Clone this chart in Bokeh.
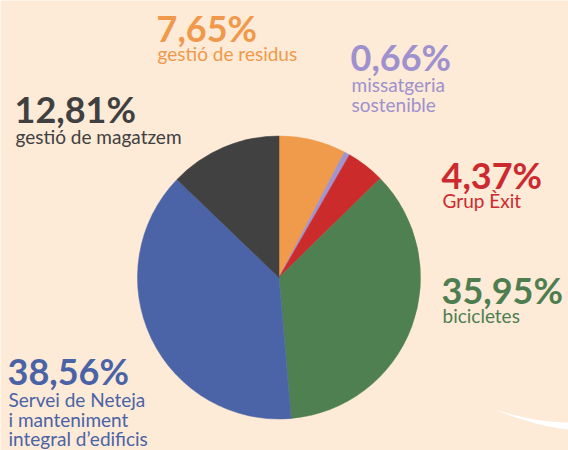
import numpy as np
from bokeh.plotting import figure
from bokeh.models import Range1d, ColumnDataSource
from bokeh.core.properties import value
from bokeh.embed import file_html
from bokeh.resources import INLINE

# ---- data ----
categories = ["gestió de residus", "missatgeria sostenible", "Grup Èxit",
              "bicicletes", "Servei de Neteja i manteniment integral d’edificis",
              "gestió de magatzem"]
shares = [7.65, 0.66, 4.37, 35.95, 38.56, 12.81]
pct_labels = ["7,65%", "0,66%", "4,37%", "35,95%", "38,56%", "12,81%"]
name_lines = [["gestió de residus"], ["missatgeria", "sostenible"], ["Grup Èxit"],
              ["bicicletes"], ["Servei de Neteja", "i manteniment", "integral d’edificis"],
              ["gestió de magatzem"]]
slice_colors = ["#F09A4B", "#A294CC", "#CC2B2C", "#4F8051", "#4A64A7", "#414141"]
text_colors = ["#F0994A", "#9E91CD", "#CC2A2F", "#4E7E50", "#4A63A6", "#404040"]

BG = "#FDEAD7"
W, H = 568, 450

def Y(yref):
    return H - yref

p = figure(width=W, height=H, output_backend="svg", toolbar_location=None,
           x_range=Range1d(0, W), y_range=Range1d(0, H),
           min_border=0, background_fill_color=BG, border_fill_color=BG)
p.axis.visible = False
p.grid.visible = False
p.outline_line_color = None

# decorative white swoosh (bottom right)
t = np.linspace(0, 1, 40)
sx = 492 + 80 * t
up = 408 + 14 * (1 - (1 - t) ** 2)
lo = 408 + 21 * (1 - (1 - t) ** 1.6)
p.patch(np.concatenate([sx, sx[::-1]]), Y(np.concatenate([up, lo[::-1]])),
        fill_color="white", line_color=None)

# pie
cx, cy, r = 278.5, 277, 141.5
frac = np.array(shares) / sum(shares)
cum = np.concatenate([[0], np.cumsum(frac)])
start = np.pi / 2 - 2 * np.pi * cum[:-1]
end = np.pi / 2 - 2 * np.pi * cum[1:]
src = ColumnDataSource(dict(start=start, end=end, color=slice_colors, cat=categories))
p.wedge(x=cx, y=Y(cy), radius=r, start_angle="start", end_angle="end",
        direction="clock", fill_color="color", line_color="color", line_width=0.5,
        source=src)

# labels: (left x, pct baseline, first name baseline) in reference px
label_pos = [(156, 42, 61), (350, 71, 92), (441, 189, 208),
             (441, 304, 323), (7, 385, 407), (14, 123, 144)]
line_gap = 19.5
PCT, NAME = 36, 19
for (lx, pb, nb), pl, nl, c in zip(label_pos, pct_labels, name_lines, text_colors):
    p.text(x=[lx], y=[Y(pb - 0.4 * PCT)], text=[pl], text_color=c, text_font=value("Lato"),
           text_font_style="bold", text_font_size=f"{PCT}px",
           text_baseline="middle", text_align="left")
    ys = [Y(nb + i * line_gap - 0.4 * NAME) for i in range(len(nl))]
    p.text(x=[lx + 1] * len(nl), y=ys, text=nl, text_color=c, text_font=value("Lato"),
           text_font_size=f"{NAME}px", text_baseline="middle", text_align="left")

open("out.html", "w").write(file_html(p, INLINE))
